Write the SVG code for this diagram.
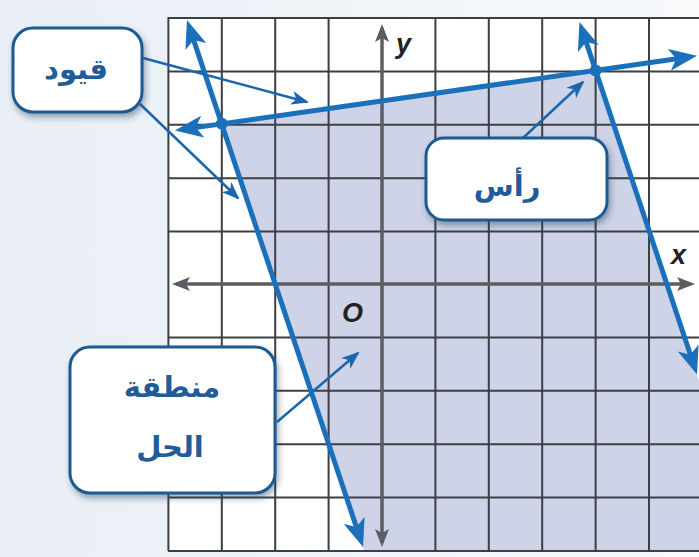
<svg xmlns="http://www.w3.org/2000/svg" width="699" height="557" viewBox="0 0 699 557">
<defs>
<linearGradient id="bg" x1="0" y1="0" x2="1" y2="0">
<stop offset="0" stop-color="#e9eff6"/>
<stop offset="1" stop-color="#f7f9fb"/>
</linearGradient>
<filter id="sh" x="-20%" y="-20%" width="150%" height="160%">
<feDropShadow dx="2" dy="4" stdDeviation="3" flood-color="#27405e" flood-opacity="0.45"/>
</filter>
<marker id="big" viewBox="0 0 28 22" refX="20" refY="11" markerWidth="28" markerHeight="22" markerUnits="userSpaceOnUse" orient="auto-start-reverse">
<path d="M0,0 L28,11 L0,22 L7,11 z" fill="#1b70bb"/>
</marker>
<marker id="sm" viewBox="0 0 18 14" refX="16" refY="7" markerWidth="18" markerHeight="14" markerUnits="userSpaceOnUse" orient="auto">
<path d="M0,0 L18,7 L0,14 L5,7 z" fill="#1c66ad"/>
</marker>
<marker id="ax" viewBox="0 0 18 14" refX="14" refY="7" markerWidth="18" markerHeight="14" markerUnits="userSpaceOnUse" orient="auto-start-reverse">
<path d="M0,0 L18,7 L0,14 L4,7 z" fill="#5a5d62"/>
</marker>
<style>
.grid line{stroke:#3c3f44;stroke-width:2}
.axis{stroke:#5a5d62;stroke-width:3.5;fill:none}
.cons{stroke:#1b70bb;stroke-width:5;fill:none;marker-start:url(#big);marker-end:url(#big)}
.call{stroke:#1c66ad;stroke-width:2.5;fill:none;marker-end:url(#sm)}
.box{fill:#ffffff;stroke:#1d5a91;stroke-width:3;filter:url(#sh)}
.lbl{font-family:"DejaVu Sans","Noto Sans",sans-serif;font-weight:bold;font-size:29px;fill:#1f5c99;text-anchor:middle}
.ax{font-family:"Liberation Sans",Arial,sans-serif;font-weight:bold;font-style:italic;font-size:27px;fill:#222}
</style>
</defs>
<rect x="0" y="0" width="699" height="557" fill="url(#bg)"/>
<rect x="168" y="18" width="531" height="533" fill="#ffffff"/>
<polygon points="221.8,123.8 595.6,70.4 699,380.7 699,551 364.2,551" fill="#cfd3e8"/>
<g class="grid">
<line x1="168.4" y1="17" x2="168.4" y2="551"/>
<line x1="221.8" y1="17" x2="221.8" y2="551"/>
<line x1="275.2" y1="17" x2="275.2" y2="551"/>
<line x1="328.6" y1="17" x2="328.6" y2="551"/>
<line x1="435.4" y1="17" x2="435.4" y2="551"/>
<line x1="488.8" y1="17" x2="488.8" y2="551"/>
<line x1="542.2" y1="17" x2="542.2" y2="551"/>
<line x1="595.6" y1="17" x2="595.6" y2="551"/>
<line x1="649" y1="17" x2="649" y2="551"/>
<line x1="168" y1="18" x2="699" y2="18"/>
<line x1="168" y1="71.4" x2="699" y2="71.4"/>
<line x1="168" y1="124.8" x2="699" y2="124.8"/>
<line x1="168" y1="178.2" x2="699" y2="178.2"/>
<line x1="168" y1="231.6" x2="699" y2="231.6"/>
<line x1="168" y1="337.4" x2="699" y2="337.4"/>
<line x1="168" y1="390.8" x2="699" y2="390.8"/>
<line x1="168" y1="444.2" x2="699" y2="444.2"/>
<line x1="168" y1="497.6" x2="699" y2="497.6"/>
<line x1="168" y1="551" x2="699" y2="551"/>
</g>
<g id="axes">
<line class="axis" x1="176" y1="284" x2="691" y2="284" marker-start="url(#ax)" marker-end="url(#ax)"/>
<line class="axis" x1="382" y1="28" x2="382" y2="543" marker-start="url(#ax)" marker-end="url(#ax)"/>
<text class="ax" x="396" y="53">y</text>
<text class="ax" x="671" y="264">x</text>
<text class="ax" x="342" y="322">O</text>
</g>
<g id="constraints">
<path class="cons" d="M189.5,27.6 L360.5,539.4"/>
<path class="cons" d="M182.9,129.4 L689.1,57"/>
<path class="cons" d="M582,29.6 L694.5,367"/>
<circle cx="221.8" cy="123.8" r="6" fill="#1b70bb"/>
<circle cx="595.6" cy="70.4" r="6" fill="#1b70bb"/>
</g>
<g id="connectors">
<path class="call" d="M143,58 L307,102"/>
<path class="call" d="M140,104 L238,198"/>
<path class="call" d="M523,138 L583,82"/>
<path class="call" d="M277,422 L358,353"/>
</g>
<g id="node-constraints">
<rect class="box" x="13" y="28" width="129" height="84" rx="20"/>
<text class="lbl" x="76" y="79">قيود</text>
</g>
<g id="node-vertex">
<rect class="box" x="426" y="138" width="181" height="82" rx="18"/>
<text class="lbl" x="507" y="196">رأس</text>
</g>
<g id="node-region">
<rect class="box" x="70" y="347" width="205" height="146" rx="20"/>
<text class="lbl" x="172" y="397">منطقة</text>
<text class="lbl" x="170" y="457">الحل</text>
</g>
</svg>
